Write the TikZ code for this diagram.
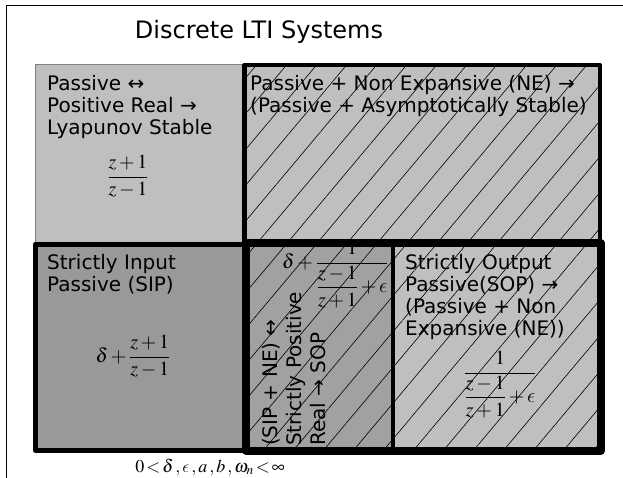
\documentclass[tikz,border=0pt]{standalone}
\usepackage{amsmath,amssymb}
\usepackage{mathptmx}
\usepackage[no-math]{fontspec}
\setmainfont{DejaVu Sans}
\usetikzlibrary{patterns.meta}
\DeclareSymbolFont{cmletters}{OML}{cmm}{m}{it}
\DeclareMathSymbol{\lunate}{\mathord}{cmletters}{"0F}
\definecolor{boxlight}{gray}{0.75}
\definecolor{boxdark}{gray}{0.6}
\definecolor{boxmid}{gray}{0.63}
\tikzset{
  every picture/.style={line join=round, line cap=round},
  hatch/.style={pattern={Lines[angle=50,distance=23pt,line width=0.6pt]}},
  boxtext/.style={align=left, anchor=north west, inner sep=0pt,
    font=\fontsize{20}{22}\selectfont},
  formula/.style={inner sep=0pt, anchor=base, font=\fontsize{20}{22}\selectfont},
}

\begin{document}
\begin{tikzpicture}[x=1pt,y=-1pt]
\useasboundingbox (0,0) rectangle (623,478);
\draw[line width=1pt] (6,478) -- (6,5.5) -- (623,5.5);
\node (title) [font=\fontsize{24}{24}\selectfont] at (259,32) {Discrete LTI Systems};
% grey fills
\filldraw[fill=boxlight, draw=gray, line width=0.8pt] (35,64) rectangle (244,242);
\fill[boxlight] (244.5,65) rectangle (600,243);
\fill[hatch] (244.5,65) rectangle (600,243);
\fill[boxdark] (35.5,244) rectangle (244,450.5);
\fill[boxmid] (246,243) rectangle (393,451);
\fill[boxlight] (393,243) rectangle (600.5,451);
\fill[hatch] (246,243) rectangle (600.5,451);
% texts
\node (pas) [boxtext] at (47,75) {Passive ↔\\Positive Real →\\Lyapunov Stable};
\node (pasf) [formula] at (128,182) {$\dfrac{z+1}{z-1}$};
\node (ne) [boxtext] at (250,75) {Passive + Non Expansive (NE) →\\(Passive + Asymptotically Stable)};
\node (sip) [boxtext] at (47,254) {Strictly Input\\Passive (SIP)};
\node (sipf) [formula] at (133,362) {$\delta+\dfrac{z+1}{z-1}$};
\node (spr) [boxtext, rotate=90, font=\fontsize{20}{24}\selectfont] at (262,446)
  {(SIP + NE) ↔\\Strictly Positive\\Real → SOP};
\node (sprf) [formula, anchor=base west] at (282,268) {$\delta+\dfrac{1}{\dfrac{z-1}{z+1}+\lunate}$};
\node (sop) [boxtext] at (405,254) {Strictly Output\\Passive(SOP) →\\(Passive + Non\\Expansive (NE))};
\node (sopf) [formula] at (500,378) {$\dfrac{1}{\dfrac{z-1}{z+1}+\lunate}$};
\node (range) [formula, font=\fontsize{18}{20}\selectfont] at (210,472)
  {$0\!<\!\delta\,,\lunate\,,a\,,b\,,\omega_n\!<\!\infty$};
% borders
\draw[line width=4.5pt] (244.5,65) rectangle (600,243);
\draw[line width=5pt] (35.5,244) rectangle (244,450.5);
\draw[line width=8pt] (246,243) rectangle (600.5,451);
\draw[line width=4pt] (393,243) -- (393,451);
\end{tikzpicture}
\end{document}
